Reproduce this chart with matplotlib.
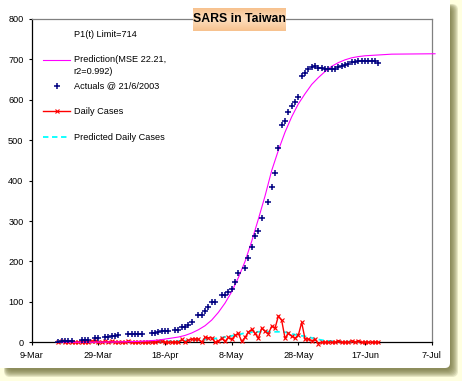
import datetime as dt
import numpy as np
import matplotlib
matplotlib.use('Agg')
import matplotlib.pyplot as plt
from matplotlib.patches import FancyBboxPatch
from matplotlib.transforms import IdentityTransform

# ---------------- data (day offsets from 9-Mar-2003) ----------------
START = dt.datetime(2003, 3, 9)

actual_days = [8, 9, 10, 11, 12, 15, 16, 17, 19, 20, 22, 23, 24, 25, 26, 29, 30, 31, 32, 33,
               36, 37, 38, 39, 40, 41, 43, 44, 45, 46, 47, 48, 50, 51, 52, 53, 54, 55, 57, 58,
               59, 60, 61, 62, 64, 65, 66, 67, 68, 69, 71, 72, 73, 74, 75, 76, 77, 78, 79, 80,
               81, 82, 83, 84, 85, 86, 87, 88, 89, 90, 91, 92, 93, 94, 95, 96, 97, 98, 99, 100,
               101, 102, 103, 104]
actual_vals = [1, 2, 3, 4, 4, 5, 5, 6, 10, 10, 12, 13, 15, 16, 17, 20, 20, 20, 20, 21,
               22, 22, 26, 29, 29, 29, 30, 30, 37, 38, 43, 51, 67, 67, 77, 88, 99, 99, 117, 117,
               124, 131, 149, 171, 183, 208, 237, 264, 275, 307, 346, 385, 418, 482, 538, 548, 569, 584, 595, 608,
               659, 666, 676, 680, 684, 678, 678, 676, 676, 676, 676, 680, 684, 686, 689, 693, 693, 697, 697, 695,
               695, 695, 695, 690]

daily_days = list(range(8, 105))
daily_vals = [0, 2, 1, 1, 0, 0, 0, 1, 0, 1, 3, 3, 0, 0, 2, 1, 2, 1, 1, 0,
              0, 3, 0, 0, 0, 1, 0, 0, 1, 0, 4, 3, 0, 0, 0, 1, 0, 7, 1, 5,
              8, 8, 8, 0, 12, 11, 11, 0, 3, 10, 2, 12, 7, 17, 22, 2, 12, 25, 32, 22,
              10, 35, 27, 21, 40, 35, 65, 54, 10, 22, 15, 10, 18, 49, 8, 8, 4, 7, -3, 0,
              0, 0, 0, 0, 4, 0, 0, 0, 4, 0, 4, 0, 0, 0, 0, 0, 0]

pred_days = [8, 16, 24, 30, 34, 38, 40, 44, 46, 48, 50, 52, 54, 56, 58, 60, 62, 64, 66, 68,
             70, 72, 74, 76, 78, 80, 82, 84, 86, 88, 90, 92, 94, 96, 98, 100, 104, 108, 121]
pred_vals = [0.1, 0.2, 0.7, 1.6, 3, 5.5, 8, 13, 17, 23, 31, 41, 55, 74, 97, 125, 160, 200, 250, 305,
             362, 425, 475, 520, 558, 590, 615, 638, 655, 670, 683, 692, 699, 704, 707, 709, 711, 713, 714]

pdaily_days = [8, 20, 30, 36, 40, 44, 48, 52, 56, 58, 60, 62, 64, 66, 68, 70, 72, 74, 76, 78,
               80, 82, 84, 86, 88, 92, 98, 104]
pdaily_vals = [0, 0.5, 1, 1.5, 2, 3, 5, 7, 10, 13, 16, 19, 23, 25, 26, 27, 26, 26, 25, 21,
               17, 15, 11, 7, 4, 2, 1, 0.3]

xtick_labels = ['9-Mar', '29-Mar', '18-Apr', '8-May', '28-May', '17-Jun', '7-Jul']
ytick_vals = [0, 100, 200, 300, 400, 500, 600, 700, 800]

title_text = 'SARS in Taiwan'
legend_note = 'P1(t) Limit=714'
legend_labels = ['Prediction(MSE 22.21,', 'r2=0.992)', 'Actuals @ 21/6/2003',
                 'Daily Cases', 'Predicted Daily Cases']


def to_dates(days):
    return [START + dt.timedelta(days=d) for d in days]


W, H = 462, 381
FONT = 'Liberation Sans'
plt.rcParams['font.family'] = [FONT, 'DejaVu Sans']

fig = plt.figure(figsize=(W / 100, H / 100), dpi=100)
fig.patch.set_facecolor('#FFFFE0')


def px_box(x0, y0, x1, y1):
    """image coords (y down) -> display coords (y up)"""
    return x0, H - y1, x1 - x0, y1 - y0


# shadow
for i in range(8):
    x, y, w, h = px_box(4 + i * 0.5, 4 + i * 0.5, 458 - i * 1.0, 377 - i * 1.0)
    sh = FancyBboxPatch((x, y), w, h, boxstyle='round,pad=0,rounding_size=6',
                        transform=IdentityTransform(), fc='#6E6E38', ec='none',
                        alpha=0.17, zorder=0)
    fig.add_artist(sh)
# white panel
x, y, w, h = px_box(-6, -6, 450, 368)
panel = FancyBboxPatch((x, y), w, h, boxstyle='round,pad=0,rounding_size=5',
                       transform=IdentityTransform(), fc='white', ec='none', zorder=1)
fig.add_artist(panel)

# axes
ax_l, ax_r, ax_t, ax_b = 31.7, 431.7, 19.0, 342.3
ax = fig.add_axes([ax_l / W, (H - ax_b) / H, (ax_r - ax_l) / W, (ax_b - ax_t) / H])
ax.set_facecolor('none')
ax.set_zorder(2)

tick_dates = [dt.datetime.strptime(t + '-2003', '%d-%b-%Y') for t in xtick_labels]
ax.set_xlim(tick_dates[0], tick_dates[-1])
ax.set_ylim(ytick_vals[0], ytick_vals[-1])
ax.set_xticks(tick_dates)
ax.set_xticklabels(xtick_labels)
ax.set_yticks(ytick_vals)
ax.set_yticklabels([str(v) for v in ytick_vals])

for s in ['left', 'bottom']:
    ax.spines[s].set_color('black')
    ax.spines[s].set_linewidth(0.9)
for s in ['top', 'right']:
    ax.spines[s].set_color('#808080')
    ax.spines[s].set_linewidth(0.9)
ax.tick_params(axis='both', direction='out', length=2.3, width=0.8, color='black',
               labelsize=6.6, labelcolor='black')
ax.tick_params(axis='y', pad=3.6)
ax.tick_params(axis='x', pad=4.0)

# series
ax.plot(to_dates(pdaily_days), pdaily_vals, color='#00FFFF', lw=1.3,
        linestyle=(0, (3, 2)), zorder=3, clip_on=False)
ax.plot(to_dates(daily_days), daily_vals, color='#FF0000', lw=1.0, marker='x',
        markersize=3, markeredgewidth=0.8, zorder=4, clip_on=False)
ax.plot(to_dates(pred_days), pred_vals, color='#FF00FF', lw=0.8, zorder=5, clip_on=False)
ax.plot(to_dates(actual_days), actual_vals, linestyle='none', marker='+', color='#000080',
        markersize=5, markeredgewidth=1.1, zorder=6)


# manual legend
def axx(px):
    return (px - ax_l) / (ax_r - ax_l)


def axy(py):
    return (ax_b - py) / (ax_b - ax_t)


tx = axx(73.5)
fs = 6.6
ax.text(tx, axy(34.5), legend_note, transform=ax.transAxes, fontsize=fs, va='center', ha='left')
ax.plot([axx(43), axx(70)], [axy(60), axy(60)], transform=ax.transAxes, color='#FF00FF', lw=0.8)
ax.text(tx, axy(60), legend_labels[0], transform=ax.transAxes, fontsize=fs, va='center', ha='left')
ax.text(tx, axy(71), legend_labels[1], transform=ax.transAxes, fontsize=fs, va='center', ha='left')
ax.plot([axx(57)], [axy(86)], transform=ax.transAxes, marker='+', color='#000080',
        markersize=5, markeredgewidth=1.1, linestyle='none')
ax.text(tx, axy(86), legend_labels[2], transform=ax.transAxes, fontsize=fs, va='center', ha='left')
ax.plot([axx(43), axx(70)], [axy(111), axy(111)], transform=ax.transAxes, color='#FF0000', lw=1.0)
ax.plot([axx(57)], [axy(111)], transform=ax.transAxes, marker='x', color='#FF0000',
        markersize=3, markeredgewidth=0.8, linestyle='none')
ax.text(tx, axy(111), legend_labels[3], transform=ax.transAxes, fontsize=fs, va='center', ha='left')
ax.plot([axx(43), axx(70)], [axy(137), axy(137)], transform=ax.transAxes, color='#00FFFF',
        lw=1.3, linestyle=(0, (3, 2)))
ax.text(tx, axy(137), legend_labels[4], transform=ax.transAxes, fontsize=fs, va='center', ha='left')

# title box with gradient
tb_l, tb_r, tb_t, tb_b = 193, 286, 8, 31
tax = fig.add_axes([tb_l / W, (H - tb_b) / H, (tb_r - tb_l) / W, (tb_b - tb_t) / H])
tax.set_zorder(3)
grad = np.linspace(0, 1, 40)
prof = 1 - np.abs(grad - 0.5) * 2
c_edge = np.array([0.97, 0.76, 0.56])
c_mid = np.array([0.99, 0.87, 0.74])
img = c_edge[None, None, :] + (c_mid - c_edge)[None, None, :] * prof[:, None, None]
img = np.repeat(img, 4, axis=1)
tax.imshow(img, aspect='auto', extent=[0, 1, 0, 1], interpolation='bilinear')
tax.set_xlim(0, 1)
tax.set_ylim(0, 1)
tax.axis('off')
tax.text(0.5, 0.5, title_text, fontsize=8.8, fontweight='bold', ha='center', va='center',
         color='black')

fig.savefig('out.png', dpi=100, facecolor=fig.get_facecolor())
